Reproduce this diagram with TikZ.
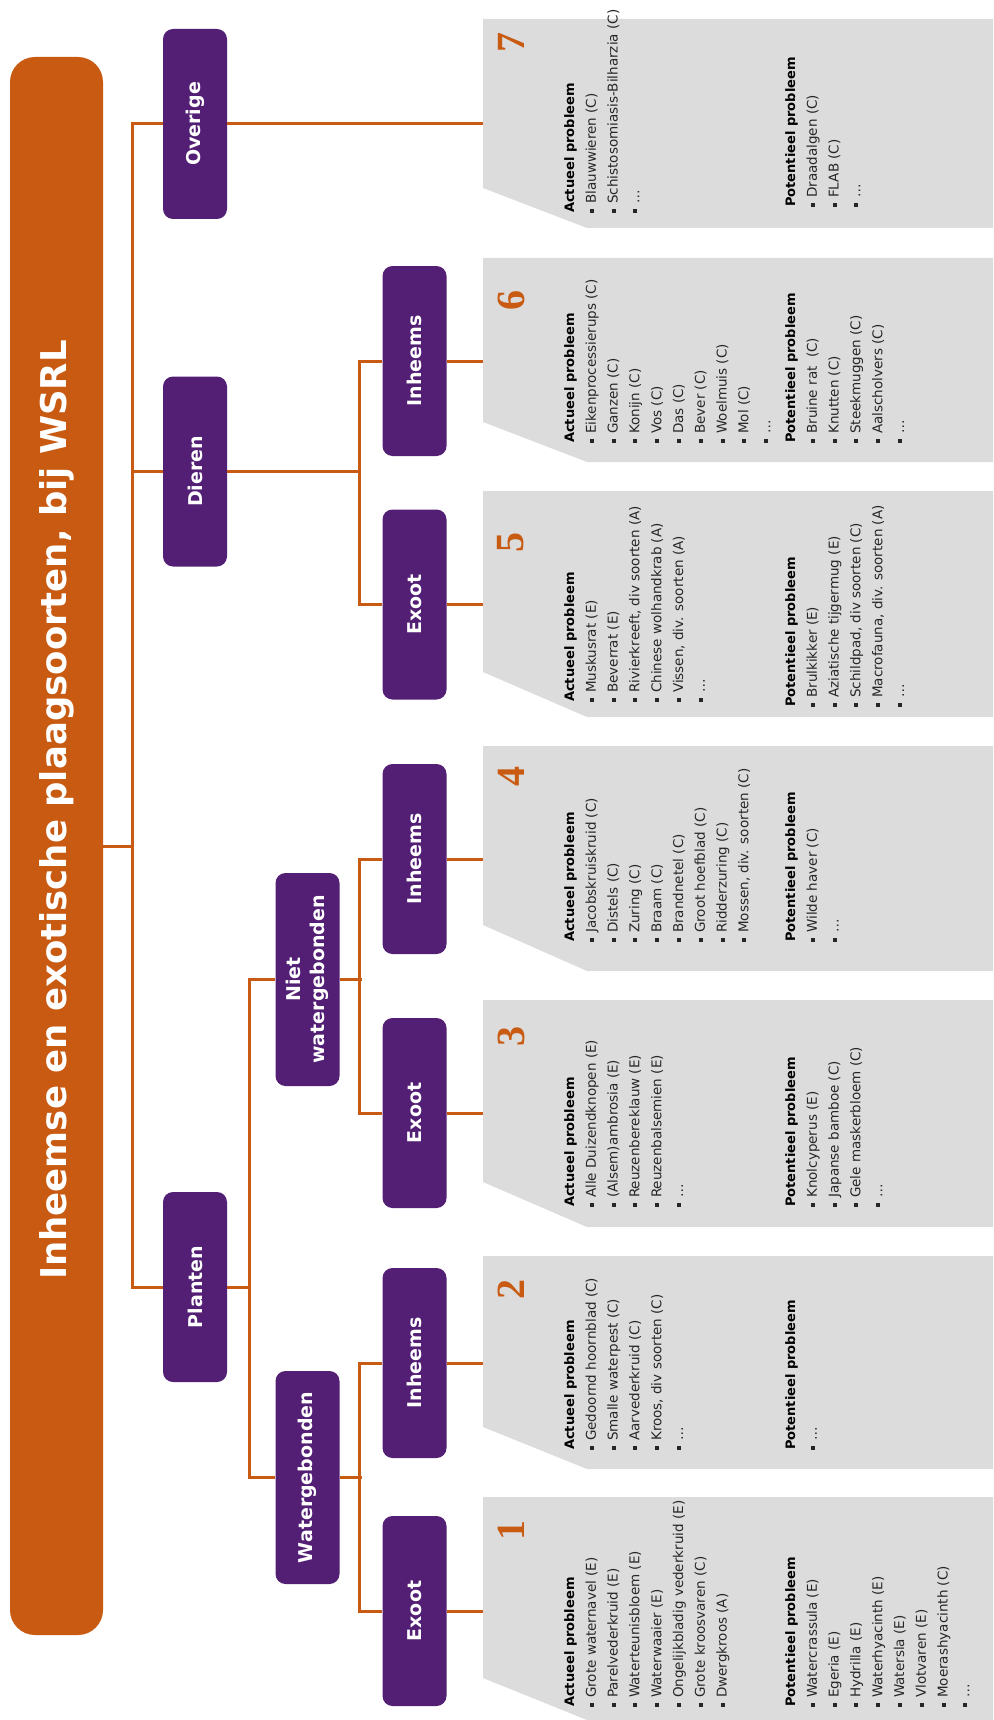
\documentclass[tikz,border=0pt]{standalone}
\usepackage{fontspec}
\usepackage{graphicx}
\usepackage{xcolor}
\usetikzlibrary{positioning}

\setmainfont{DejaVu Sans}
\newfontfamily\digitfont{Liberation Serif}

\definecolor{wsrlorange}{HTML}{C85A12}
\definecolor{wsrlpurple}{HTML}{521F75}
\definecolor{panelgray}{HTML}{DCDCDC}

\newcommand{\itm}{\rule[2pt]{4pt}{4pt}\hspace{5pt}}
\newcommand{\kop}[1]{{\color{black}\fontsize{13}{21.8}\selectfont\bfseries #1}}

\begin{document}
\begin{tikzpicture}[x=1pt, y=-1pt,
  cat/.style={fill=wsrlpurple, text=white, rounded corners=10pt,
    minimum width=64pt, minimum height=190pt, inner sep=0pt,
    font=\fontsize{19}{24}\selectfont\bfseries},
  link/.style={draw=wsrlorange, line width=3pt},
  lst/.style={rotate=90, anchor=north west, align=left, inner sep=0pt,
    text=black!85, font=\fontsize{13.5}{21.8}\selectfont},
  num/.style={rotate=90, text=wsrlorange, inner sep=0pt,
    font=\digitfont\fontsize{40}{40}\selectfont\bfseries}]

  \useasboundingbox (0,0) rectangle (993,1720);

  % Panels
  \foreach \t/\n/\b in {19/188/228, 258/422/462, 491/672/717, 746/925/971,
                        1000/1182/1227, 1256/1427/1469, 1497/1678/1720}
    \fill[panelgray] (483,\t) -- (993,\t) -- (993,\b) -- (587,\b) -- (483,\n) -- cycle;
  \coordinate (pleft) at (483,0);

  % Title bar
  \node[fill=wsrlorange, rounded corners=25pt, minimum width=93pt,
        minimum height=1578pt, inner sep=0pt] (title) at (56.5,846) {};
  \node[rotate=90, text=white, inner sep=0pt,
        font=\fontsize{35.5}{40}\selectfont\bfseries] (titletext) at (57,810)
        {Inheemse en exotische plaagsoorten, bij WSRL};

  % Categories
  \node[cat] (overige) at (195,124) {\rotatebox{90}{Overige}};
  \node[cat] (dieren) at (195,471.5) {\rotatebox{90}{Dieren}};
  \node[cat] (planten) at (195,1287) {\rotatebox{90}{Planten}};
  \node[cat, minimum height=213pt] (nietwater) at (307.5,979.5)
        {\rotatebox{90}{\begin{tabular}{@{}c@{}}Niet\\watergebonden\end{tabular}}};
  \node[cat, minimum height=213pt] (water) at (307.5,1477.5) {\rotatebox{90}{Watergebonden}};

  \node[cat] (inheems6) at (414.5,361) {\rotatebox{90}{Inheems}};
  \node[cat] (exoot5) at (414.5,604.5) {\rotatebox{90}{Exoot}};
  \node[cat] (inheems4) at (414.5,859) {\rotatebox{90}{Inheems}};
  \node[cat] (exoot3) at (414.5,1113) {\rotatebox{90}{Exoot}};
  \node[cat] (inheems2) at (414.5,1363) {\rotatebox{90}{Inheems}};
  \node[cat] (exoot1) at (414.5,1611) {\rotatebox{90}{Exoot}};

  % Connectors
  \draw[link] (title.east) -- ++(30,0);
  \draw[link] (overige.west) -- ++(-30,0) |- (planten.west);
  \draw[link] (dieren.west) -- ++(-30,0);
  \draw[link] (overige.east) -- (overige.east -| pleft);

  \draw[link] (dieren.east) -- ++(133,0);
  \draw[link] (inheems6.west) -- ++(-23,0) |- (exoot5.west);

  \draw[link] (planten.east) -- ++(23,0);
  \draw[link] (nietwater.west) -- ++(-26,0) |- (water.west);
  \draw[link] (nietwater.east) -- ++(22,0);
  \draw[link] (inheems4.west) -- ++(-23,0) |- (exoot3.west);
  \draw[link] (water.east) -- ++(22,0);
  \draw[link] (inheems2.west) -- ++(-23,0) |- (exoot1.west);

  \foreach \leaf in {exoot1,inheems2,exoot3,inheems4,exoot5,inheems6}
    \draw[link] (\leaf.east) -- (\leaf.east -| pleft);

  % Numbers
  \node[num] (n7) at (511,43) {7};
  \node[num] (n6) at (511,300) {6};
  \node[num] (n5) at (511,542) {5};
  \node[num] (n4) at (511,776) {4};
  \node[num] (n3) at (511,1036) {3};
  \node[num] (n2) at (511,1289) {2};
  \node[num] (n1) at (511,1530) {1};

  % Panel 1
  \node[lst] (act1) at (564,1707) {\kop{Actueel probleem}\\
    \itm Grote waternavel (E)\\ \itm Parelvederkruid (E)\\
    \itm Waterteunisbloem (E)\\ \itm Waterwaaier (E)\\
    \itm Ongelijkbladig vederkruid (E)\\ \itm Grote kroosvaren (C)\\
    \itm Dwergkroos (A)};
  \node[lst] (pot1) at (785,1707) {\kop{Potentieel probleem}\\
    \itm Watercrassula (E)\\ \itm Egeria (E)\\ \itm Hydrilla (E)\\
    \itm Waterhyacinth (E)\\ \itm Watersla (E)\\ \itm Vlotvaren (E)\\
    \itm Moerashyacinth (C)\\ \itm …};

  % Panel 2
  \node[lst] (act2) at (564,1450) {\kop{Actueel probleem}\\
    \itm Gedoornd hoornblad (C)\\ \itm Smalle waterpest (C)\\
    \itm Aarvederkruid (C)\\ \itm Kroos, div soorten (C)\\ \itm …};
  \node[lst] (pot2) at (785,1450) {\kop{Potentieel probleem}\\ \itm …};

  % Panel 3
  \node[lst] (act3) at (564,1207) {\kop{Actueel probleem}\\
    \itm Alle Duizendknopen (E)\\ \itm (Alsem)ambrosia (E)\\
    \itm Reuzenbereklauw (E)\\ \itm Reuzenbalsemien (E)\\ \itm …};
  \node[lst] (pot3) at (785,1207) {\kop{Potentieel probleem}\\
    \itm Knolcyperus (E)\\ \itm Japanse bamboe (C)\\
    \itm Gele maskerbloem (C)\\ \itm …};

  % Panel 4
  \node[lst] (act4) at (564,942) {\kop{Actueel probleem}\\
    \itm Jacobskruiskruid (C)\\ \itm Distels (C)\\ \itm Zuring (C)\\
    \itm Braam (C)\\ \itm Brandnetel (C)\\ \itm Groot hoefblad (C)\\
    \itm Ridderzuring (C)\\ \itm Mossen, div. soorten (C)};
  \node[lst] (pot4) at (785,942) {\kop{Potentieel probleem}\\
    \itm Wilde haver (C)\\ \itm …};

  % Panel 5
  \node[lst] (act5) at (564,702) {\kop{Actueel probleem}\\
    \itm Muskusrat (E)\\ \itm Beverrat (E)\\
    \itm Rivierkreeft, div soorten (A)\\ \itm Chinese wolhandkrab (A)\\
    \itm Vissen, div. soorten (A)\\ \itm …};
  \node[lst] (pot5) at (785,707) {\kop{Potentieel probleem}\\
    \itm Brulkikker (E)\\ \itm Aziatische tijgermug (E)\\
    \itm Schildpad, div soorten (C)\\ \itm Macrofauna, div. soorten (A)\\
    \itm …};

  % Panel 6
  \node[lst] (act6) at (564,443) {\kop{Actueel probleem}\\
    \itm Eikenprocessierups (C)\\ \itm Ganzen (C)\\ \itm Konijn (C)\\
    \itm Vos (C)\\ \itm Das (C)\\ \itm Bever (C)\\ \itm Woelmuis (C)\\
    \itm Mol (C)\\ \itm …};
  \node[lst] (pot6) at (785,443) {\kop{Potentieel probleem}\\
    \itm Bruine rat~ (C)\\ \itm Knutten (C)\\ \itm Steekmuggen (C)\\
    \itm Aalscholvers (C)\\ \itm …};

  % Panel 7
  \node[lst] (act7) at (564,213) {\kop{Actueel probleem}\\
    \itm Blauwwieren (C)\\ \itm Schistosomiasis-Bilharzia (C)\\ \itm …};
  \node[lst] (pot7) at (785,207) {\kop{Potentieel probleem}\\
    \itm Draadalgen (C)\\ \itm FLAB (C)\\ \itm …};

\end{tikzpicture}
\end{document}
